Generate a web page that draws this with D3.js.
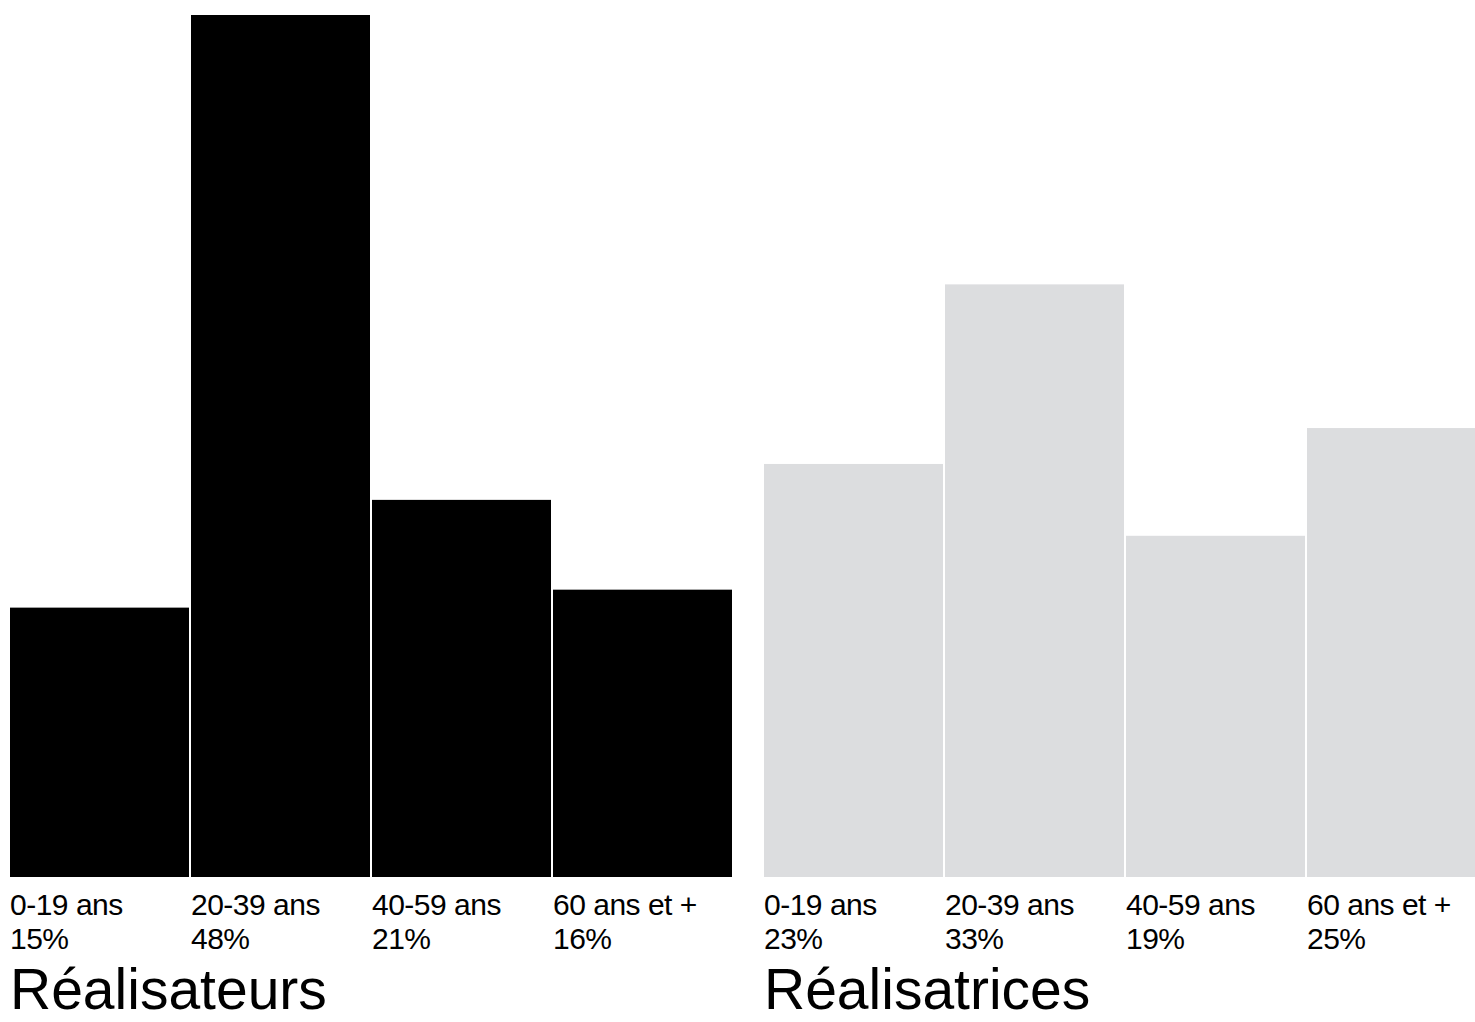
<!DOCTYPE html>
<html>
<head>
<meta charset="utf-8">
<script src="https://cdn.jsdelivr.net/npm/d3@7"></script>
<style>
  html, body { margin: 0; padding: 0; background: #fff; overflow: hidden; }
  svg { display: block; }
  text { font-family: "Liberation Sans", Arial, Helvetica, sans-serif; fill: #000; }
</style>
</head>
<body>
<svg id="chart" width="1475" height="1022"></svg>
<script>
const categories = ["0-19 ans", "20-39 ans", "40-59 ans", "60 ans et +"];
const menValues = [15, 48, 21, 16];
const womenValues = [23, 33, 19, 25];
const panelTitles = ["Réalisateurs", "Réalisatrices"];
const panelColors = ["#000000", "#dcdddf"];

const svg = d3.select("#chart");

const y = d3.scaleLinear().domain([0, 48]).range([877, 15]);

const panels = [
  { title: panelTitles[0], values: menValues, color: panelColors[0], x0: 10 },
  { title: panelTitles[1], values: womenValues, color: panelColors[1], x0: 764 }
];

panels.forEach(p => {
  const x = d3.scaleBand()
    .domain(categories)
    .range([p.x0, p.x0 + 722])
    .paddingInner(2 / 181)
    .paddingOuter(0);

  const g = svg.append("g");
  const data = categories.map((c, i) => ({ cat: c, value: p.values[i] }));

  g.selectAll("rect")
    .data(data)
    .join("rect")
    .attr("x", d => x(d.cat))
    .attr("y", d => y(d.value))
    .attr("width", x.bandwidth())
    .attr("height", d => y(0) - y(d.value))
    .attr("fill", p.color);

  const lbl = g.selectAll("g.lbl")
    .data(data)
    .join("g")
    .attr("class", "lbl")
    .attr("transform", d => `translate(${x(d.cat)},0)`);

  lbl.append("text")
    .attr("y", 915)
    .attr("font-size", 30)
    .attr("letter-spacing", -0.5)
    .text(d => d.cat);

  lbl.append("text")
    .attr("y", 949)
    .attr("font-size", 30)
    .attr("letter-spacing", -0.5)
    .text(d => d.value + "%");

  g.append("text")
    .attr("x", p.x0)
    .attr("y", 1009)
    .attr("font-size", 57)
    .text(p.title);
});
</script>
</body>
</html>
